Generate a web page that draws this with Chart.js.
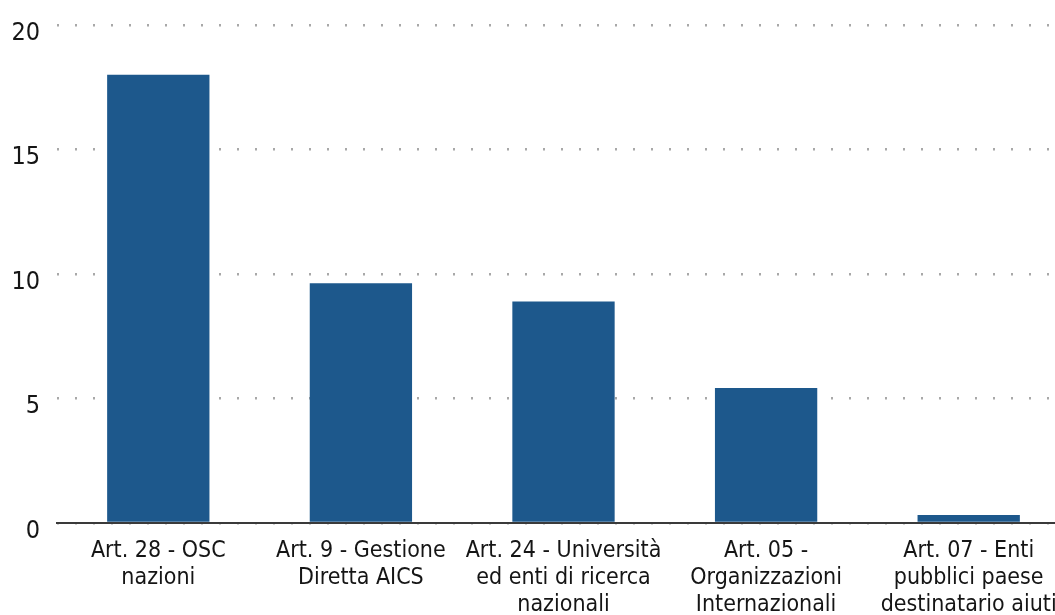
<!DOCTYPE html>
<html>
<head>
<meta charset="utf-8">
<script src="https://cdn.jsdelivr.net/npm/chart.js@4/dist/chart.umd.min.js"></script>
<style>
  html, body { margin: 0; padding: 0; background: #fff; overflow: hidden; }
  #wrap { width: 1055px; height: 615px; overflow: hidden; }
  canvas { display: block; }
</style>
</head>
<body>
<div id="wrap"><canvas id="chart" width="1070" height="640"></canvas></div>
<script>
// Barre per articolo di legge.
const categories = [
  ["Art. 28 - OSC", "nazioni"],
  ["Art. 9 - Gestione", "Diretta AICS"],
  ["Art. 24 - Università", "ed enti di ricerca", "nazionali"],
  ["Art. 05 -", "Organizzazioni", "Internazionali"],
  ["Art. 07 - Enti", "pubblici paese", "destinatario aiuti"],
];
const values = [18.0, 9.63, 8.9, 5.42, 0.32];
const yTicks = [0, 5, 10, 15, 20];

const FONT = "'Liberation Sans Narrow', 'DejaVu Sans Condensed', sans-serif";
const BAR = "#1d588c";
const TEXT = "#151515";

new Chart(document.getElementById("chart"), {
  type: "bar",
  data: {
    labels: categories,
    datasets: [{ data: values, backgroundColor: BAR, categoryPercentage: 1, barPercentage: 0.505 }],
  },
  options: {
    responsive: false,
    animation: false,
    layout: { padding: { top: 25, right: 0, left: 0, bottom: 0 } },
    plugins: { legend: { display: false }, tooltip: { enabled: false } },
    scales: {
      x: {
        grid: { display: false, drawTicks: false },
        border: { display: true, color: "#3a3a3a", width: 2 },
        ticks: {
          color: TEXT, autoSkip: false, maxRotation: 0, padding: 15,
          font: { family: FONT, size: 23, lineHeight: 1.17 },
        },
        afterFit: (s) => { s.height = 117; s.paddingLeft = 0; s.paddingRight = 0; },
      },
      y: {
        min: 0, max: 20,
        afterBuildTicks: (s) => { s.ticks = yTicks.map((v) => ({ value: v })); },
        grid: { color: "#a8a8a8", lineWidth: 2.5, drawTicks: false },
        border: { display: false, dash: [2, 16] },
        ticks: {
          color: TEXT, padding: 17, labelOffset: 8,
          font: { family: FONT, size: 25 },
        },
        afterFit: (s) => { s.width = 57; s.paddingTop = 0; s.paddingBottom = 0; },
      },
    },
  },
});
</script>
</body>
</html>
